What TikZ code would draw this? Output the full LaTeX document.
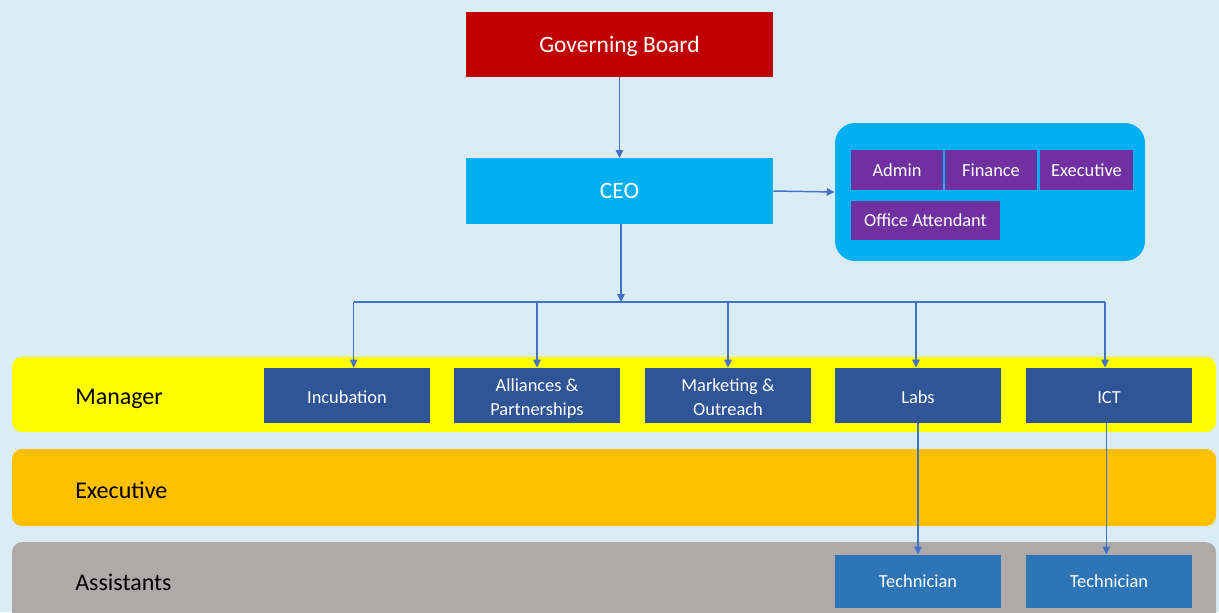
\documentclass[tikz,border=0pt]{standalone}
\usepackage{fontspec}
\setmainfont{Carlito}
\usetikzlibrary{arrows.meta}
\definecolor{bgc}{RGB}{219,237,244}
\definecolor{gbred}{RGB}{192,0,0}
\definecolor{ceoblue}{RGB}{0,176,240}
\definecolor{purp}{RGB}{112,48,160}
\definecolor{mgrblue}{RGB}{47,85,151}
\definecolor{techblue}{RGB}{46,117,182}
\definecolor{yel}{RGB}{255,255,0}
\definecolor{orng}{RGB}{255,192,0}
\definecolor{gry}{RGB}{174,170,170}
\definecolor{conncol}{RGB}{68,114,196}
\newcommand{\twoline}[2]{\raisebox{-2.3pt}[\height][\depth]{\begin{tabular}{@{}c@{}}#1\\#2\end{tabular}}}
\newcommand{\dnone}[1]{\raisebox{-1.5pt}[\height][\depth]{#1}}
\tikzset{
  topbox/.style={fill=#1, text=white, inner sep=0pt, minimum width=230.25pt, minimum height=49pt, text depth=0pt, font=\fontsize{17.6}{20}\selectfont},
  purpbox/.style={fill=purp, text=white, inner sep=0pt, minimum height=30pt, text depth=0pt, font=\fontsize{13.8}{18}\selectfont},
  mgrbox/.style={fill=mgrblue, text=white, inner sep=0pt, minimum width=124.5pt, minimum height=41.25pt, align=center, font=\fontsize{13.8}{18}\selectfont},
  techbox/.style={fill=techblue, text=white, inner sep=0pt, minimum width=124.5pt, minimum height=39.75pt, text depth=0pt, font=\fontsize{13.8}{18}\selectfont},
  band/.style={fill=#1, rounded corners=7.5pt, inner sep=0pt, minimum width=903pt},
  bandlabel/.style={anchor=west, inner sep=0pt, text depth=0pt, font=\fontsize{18}{21}\selectfont},
  conn/.style={draw=conncol, line width=1.1pt, -{Triangle[length=6pt,width=5.5pt]}},
  plain/.style={draw=conncol, line width=1.1pt},
}
\begin{document}
\begin{tikzpicture}[x=0.75pt,y=-0.75pt]
\useasboundingbox (0,0) rectangle (1219,612);
\clip (0,0) rectangle (1219,612);
\fill[bgc] (0,0) rectangle (1219,612);
% bands
\node[band=yel, minimum height=56.25pt] (mband) at (614,394.5) {};
\node[band=orng, minimum height=57.75pt] (eband) at (614,487.5) {};
\node[band=gry, minimum height=62pt] (aband) at (614,583.5) {};
\node[bandlabel] (mlab) at (75,397) {Manager};
\node[bandlabel] (elab) at (75,490) {Executive};
\node[bandlabel] (alab) at (75,582) {Assistants};
% top
\node[topbox=gbred] (gb) at (619.5,44.5) {Governing Board};
\node[topbox=ceoblue] (ceo) at (619.5,191) {CEO};
% side panel
\node[fill=ceoblue, rounded corners=15pt, minimum width=232.5pt, minimum height=103.5pt, inner sep=0pt] (panel) at (990,192) {};
\node[purpbox, minimum width=69pt] (admin) at (897,170) {Admin};
\node[purpbox, minimum width=69pt] (fin) at (991,170) {Finance};
\node[purpbox, minimum width=69.75pt] (exe) at (1086.5,170) {Executive};
\node[purpbox, minimum width=111.75pt, minimum height=29.25pt] (office) at (925.5,220.5) {Office Attendant};
% managers
\node[mgrbox] (inc) at (347,395.5) {\dnone{Incubation}};
\node[mgrbox] (all) at (537,395.5) {\twoline{Alliances \&}{Partnerships}};
\node[mgrbox] (mkt) at (728,395.5) {\twoline{Marketing \&}{Outreach}};
\node[mgrbox] (labs) at (918,395.5) {\dnone{Labs}};
\node[mgrbox] (ict) at (1109,395.5) {\dnone{ICT}};
% technicians
\node[techbox] (t1) at (918,581.5) {Technician};
\node[techbox] (t2) at (1109,581.5) {Technician};
% connectors
\draw[conn] (gb) -- (ceo);
\draw[conn] (ceo.east) -- (panel.west);
\coordinate (bus) at (621,302);
\coordinate (b1) at ([xshift=5pt]inc.north |- bus);
\coordinate (b2) at (all.north |- bus);
\coordinate (b3) at (mkt.north |- bus);
\coordinate (b4) at ([xshift=-1.5pt]labs.north |- bus);
\coordinate (b5) at ([xshift=-3pt]ict.north |- bus);
\draw[conn] (ceo.south -| bus) -- (bus);
\draw[plain] (b1) -- (b5);
\draw[conn] (b1) -- (b1 |- inc.north);
\draw[conn] (b2) -- (all.north);
\draw[conn] (b3) -- (mkt.north);
\draw[conn] (b4) -- (b4 |- labs.north);
\draw[conn] (b5) -- (b5 |- ict.north);
\draw[conn] (labs) -- (t1);
\draw[conn] ([xshift=-2pt]ict.south) -- ([xshift=-2pt]t2.north);
\end{tikzpicture}
\end{document}
